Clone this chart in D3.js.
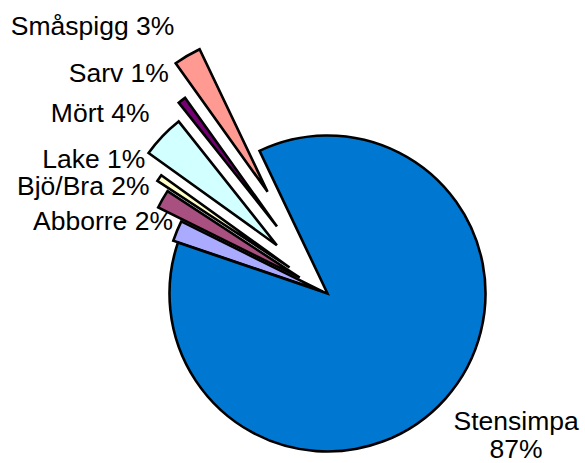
<!DOCTYPE html>
<meta charset="utf-8">

<style>
body {
	margin: 0;
	background: #fff;
}
text {
	font-family: "Liberation Sans", Arial, sans-serif;
	font-size: 26.5px;
	fill: #000;
}
</style>

<body>
	<svg></svg>
	<script src="https://cdn.jsdelivr.net/npm/d3@7"></script>
	<script>

		// chart data (alphabetical, as the sheet had it)
		var species = ["Abborre", "Bjö/Bra", "Lake", "Mört", "Sarv", "Småspigg", "Stensimpa"];
		var shares = [2.1, 1.9, 0.7, 4.4, 0.8, 2.8, 87.3];
		var pctLabels = ["2%", "2%", "1%", "4%", "1%", "3%", "87%"];

		// setting up the svg
		var width = 585, height = 463;
		var svg = d3.select("svg")
				.attr("width", width)
				.attr("height", height);

		var cx = 327.5, cy = 293.5, radius = 158;

		// excel 2003 palette, as it came out in the picture
		var colors = ["#aaaaff", "#a8507f", "#ffffcc", "#d2ffff", "#740074", "#ff9a92", "#0078d2"];

		// how far each slice is pulled out of the pie (px)
		var explode = [5, 32, 46, 70, 84, 118, 0];

		// first slice starts at about -71 degrees
		var startDeg = -71.2;

		var pie = d3.pie()
				.sort(null)
				.value(function(d){return d})
				.startAngle(startDeg * Math.PI / 180)
				.endAngle((startDeg + 360) * Math.PI / 180);

		var arc = d3.arc()
				.innerRadius(0)
				.outerRadius(radius);

		var arcs = pie(shares);

		var chart = svg.append("g")
				.attr("transform", "translate(" + cx + "," + cy + ")");

		// offset of a slice along its middle angle
		function offset(d, dist)
		{
			var mid = (d.startAngle + d.endAngle) / 2;
			return [Math.sin(mid) * dist, -Math.cos(mid) * dist];
		}

		// DRAWING SLICES-------------------------------------------------------

		chart.selectAll("path")
			.data(arcs)
			.enter()
			.append("path")
			.attr("d", arc)
			.attr("transform", function(d, i){
				var o = offset(d, explode[i]);
				return "translate(" + o[0] + "," + o[1] + ")";
			})
			.attr("fill", function(d, i){return colors[i]})
			.attr("stroke", "#000")
			.attr("stroke-width", 2.6)
			.attr("stroke-linejoin", "miter");

		// DRAWING LABELS-------------------------------------------------------

		// left-hand labels hang off the outer edge of each pulled slice
		// small nudges where excel moved a label by hand
		var nudgeX = {0: 9, 2: -1};
		var nudgeY = {1: 2, 2: -2};

		arcs.forEach(function(d, i)
		{
			var mid = (d.startAngle + d.endAngle) / 2;
			var p = offset(d, explode[i] + radius);
			var c = Math.cos(mid);

			if(i < species.length - 1)
			{
				chart.append("text")
					.attr("x", p[0] - 13 + (nudgeX[i] || 0))
					.attr("y", p[1] + 15 - 41.6 * c + (nudgeY[i] || 0))
					.attr("text-anchor", "end")
					.text(species[i] + " " + pctLabels[i]);
			}
			else
			{
				// big slice gets a two line label to the lower right
				var t = chart.append("text")
					.attr("text-anchor", "middle");
				t.append("tspan").text(species[i]);
				t.append("tspan").text(pctLabels[i]);

				var w = 0;
				t.selectAll("tspan").each(function(){
					w = Math.max(w, this.getComputedTextLength());
				});
				var lx = p[0] + 8 + w / 2;
				t.selectAll("tspan")
					.attr("x", lx)
					.attr("y", function(s, j){return p[1] + 31 + j * 28.5});
			}
		});

	</script>
</body>
</html>
